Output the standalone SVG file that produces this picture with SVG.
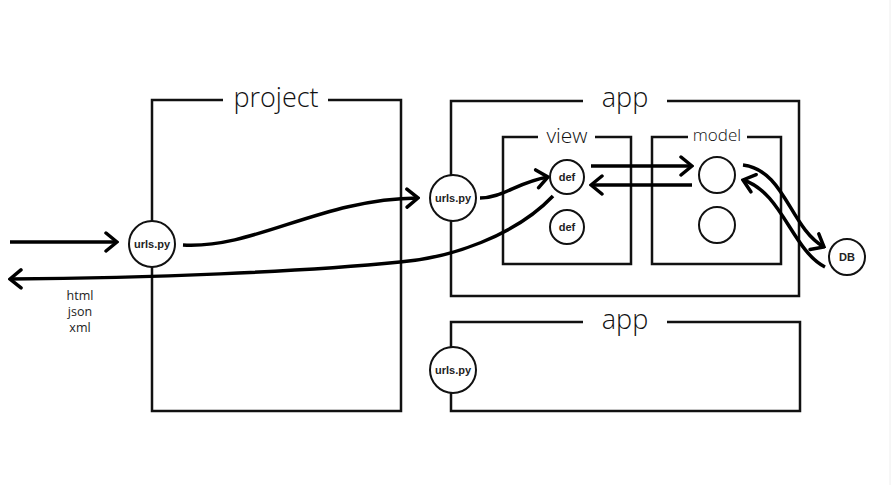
<svg xmlns="http://www.w3.org/2000/svg" width="891" height="485" viewBox="0 0 891 485">
<style>
.box{fill:none;stroke:#111;stroke-width:2.5}
.title{font-family:"Open Sans","Noto Sans",sans-serif;font-weight:300;fill:#111;text-anchor:middle}
.node{fill:#fff;stroke:#111;stroke-width:2}
.lbl{font-family:"Liberation Sans",Arial,sans-serif;font-weight:bold;font-size:11px;fill:#222;text-anchor:middle}
.conn{fill:none;stroke:#000;stroke-width:3.5;marker-end:url(#arr)}
.fmt{font-family:"Open Sans","Noto Sans",sans-serif;font-size:12.5px;fill:#222;text-anchor:middle}
</style>
<defs>
<marker id="arr" markerUnits="userSpaceOnUse" markerWidth="16" markerHeight="22" viewBox="-14 -11 16 22" refX="0" refY="0" orient="auto">
<path d="M-11,-9 L0,0 L-11,9" fill="none" stroke="#000" stroke-width="3.5" stroke-linecap="round" stroke-linejoin="miter"/>
</marker>
</defs>
<rect width="891" height="485" fill="#fff"/>
<line x1="890" y1="0" x2="890" y2="485" stroke="#eee" stroke-width="1"/>

<g id="project">
<path class="box" d="M223,100 H152 V411 H401 V100 H328"/>
<text class="title" x="276" y="107" font-size="27">project</text>
</g>
<g id="app1">
<path class="box" d="M583,101 H451 V296 H799 V101 H667"/>
<text class="title" x="625" y="107" font-size="27">app</text>
</g>
<g id="view">
<path class="box" d="M538,137 H503 V264 H631 V137 H595"/>
<text class="title" x="567" y="143" font-size="21">view</text>
</g>
<g id="model">
<path class="box" d="M688,137 H652 V264 H781 V137 H747"/>
<text class="title" x="717" y="141" font-size="17">model</text>
</g>
<g id="app2">
<path class="box" d="M583,322 H451 V411 H800 V322 H667"/>
<text class="title" x="625" y="329" font-size="27">app</text>
</g>

<g id="connectors">
<path class="conn" d="M10,242 L117,242"/>
<path class="conn" d="M183,245 C255,249 320,199 418,198"/>
<path class="conn" d="M480,198 C502,198 518,182 548,177"/>
<path class="conn" d="M591,166 L692,166"/>
<path class="conn" d="M692,185 L591,185"/>
<path class="conn" d="M743,165 C785,170 790,228 824,247"/>
<path class="conn" d="M825,267 C792,250 782,192 743,180"/>
<path class="conn" d="M553,196 C515,236 450,258 400,262 C300,272 150,278 10,279"/>
</g>

<g id="urls-project">
<circle class="node" cx="152" cy="244" r="23"/>
<text class="lbl" x="152" y="248">urls.py</text>
</g>
<g id="urls-app1">
<circle class="node" cx="453" cy="198" r="23"/>
<text class="lbl" x="453" y="202">urls.py</text>
</g>
<g id="urls-app2">
<circle class="node" cx="453" cy="370" r="23"/>
<text class="lbl" x="453" y="374">urls.py</text>
</g>
<g id="def1">
<circle class="node" cx="567" cy="177" r="17"/>
<text class="lbl" x="567" y="181">def</text>
</g>
<g id="def2">
<circle class="node" cx="567" cy="227" r="17"/>
<text class="lbl" x="567" y="231">def</text>
</g>
<g id="model1">
<circle class="node" cx="717" cy="175" r="18"/>
</g>
<g id="model2">
<circle class="node" cx="717" cy="225" r="18"/>
</g>
<g id="db">
<circle class="node" cx="847" cy="257" r="18"/>
<text class="lbl" x="847" y="261" font-size="10px">DB</text>
</g>

<g id="formats">
<text class="fmt" x="80" y="300">html</text>
<text class="fmt" x="80" y="316">json</text>
<text class="fmt" x="80" y="332">xml</text>
</g>
</svg>
